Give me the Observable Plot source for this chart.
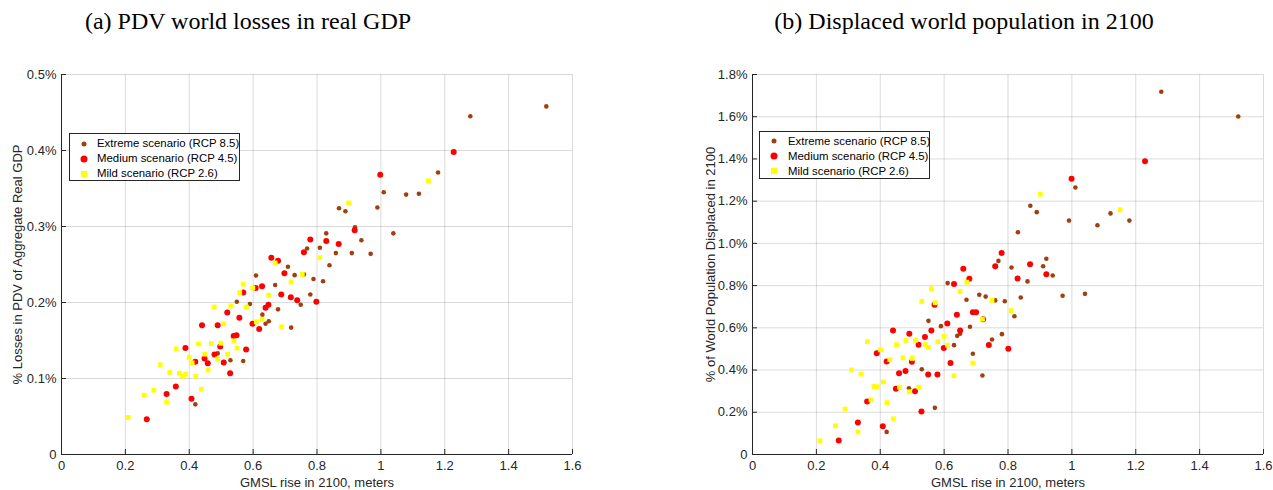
<!DOCTYPE html>
<html>
<head>
<meta charset="utf-8">
<script src="https://cdn.jsdelivr.net/npm/d3@7"></script>
<script src="https://cdn.jsdelivr.net/npm/@observablehq/plot@0.6"></script>
<style>
  body { margin: 0; background: #fff; }
  #wrap { position: relative; width: 1273px; height: 490px; overflow: hidden; font-family: "Liberation Sans", Arial, sans-serif; }
  .title { position: absolute; top: 9px; font-family: "Liberation Serif", "Times New Roman", serif; font-size: 24px; line-height: 1; color: #000; white-space: nowrap; transform: translateX(-50%); }
  .panel { position: absolute; top: 60px; }
  .legend { position: absolute; box-sizing: border-box; background: #fff; border: 1px solid #262626; font-size: 11.4px; color: #000; }
  .row { position: absolute; left: 0; right: 0; height: 15px; line-height: 15px; white-space: nowrap; }
  .row span.t { position: absolute; }
  .mk { position: absolute; top: 50%; transform: translate(-50%, -50%); }
</style>
</head>
<body>
<div id="wrap">
  <div class="title" style="left:248px">(a) PDV world losses in real GDP</div>
  <div class="title" style="left:964px">(b) Displaced world population in 2100</div>
  <div class="panel" id="pa" style="left:0px"></div>
  <div class="panel" id="pb" style="left:690px"></div>
</div>
<script>
// ---------------- data: [GMSL rise (m), value (%)] ----------------
// Panel (a): PDV world losses in real GDP (% of aggregate real GDP)
const extremeA = [
  [1.518,0.458],[1.280,0.445],[1.179,0.371],[1.009,0.345],[1.079,0.342],[1.119,0.343],
  [0.869,0.324],[0.889,0.320],[0.989,0.325],[0.919,0.299],[1.039,0.291],[0.939,0.282],
  [0.829,0.291],[0.769,0.271],[0.809,0.272],[0.859,0.265],[0.909,0.265],[0.968,0.264],
  [0.839,0.249],[0.759,0.237],[0.789,0.231],[0.819,0.228],[0.709,0.247],[0.730,0.236],
  [0.609,0.2355],[0.669,0.223],[0.779,0.2105],[0.749,0.197],[0.590,0.198],[0.549,0.201],
  [0.629,0.184],[0.639,0.172],[0.649,0.1754],[0.678,0.191],[0.719,0.167],[0.489,0.133],
  [0.529,0.124],[0.569,0.123],[0.419,0.066]
];
const mediumA = [
  [1.228,0.398],[0.998,0.368],[0.918,0.295],[0.779,0.283],[0.829,0.281],[0.868,0.277],
  [0.759,0.266],[0.657,0.259],[0.678,0.255],[0.698,0.2385],[0.628,0.2215],[0.608,0.219],
  [0.569,0.213],[0.688,0.2105],[0.718,0.207],[0.738,0.203],[0.798,0.201],[0.648,0.197],
  [0.639,0.193],[0.519,0.187],[0.557,0.180],[0.598,0.172],[0.489,0.170],[0.440,0.170],
  [0.619,0.165],[0.539,0.156],[0.548,0.157],[0.497,0.142],[0.578,0.138],[0.479,0.1316],
  [0.448,0.1263],[0.458,0.120],[0.508,0.121],[0.419,0.122],[0.528,0.107],[0.388,0.140],
  [0.358,0.0894],[0.329,0.0797],[0.407,0.0732],[0.267,0.0464]
];
const mildA = [
  [1.149,0.360],[0.899,0.331],[0.809,0.259],[0.754,0.237],[0.669,0.252],[0.719,0.227],
  [0.599,0.219],[0.569,0.224],[0.558,0.213],[0.649,0.2096],[0.530,0.1955],[0.478,0.194],
  [0.579,0.194],[0.628,0.178],[0.610,0.1745],[0.508,0.172],[0.689,0.168],[0.540,0.1495],
  [0.550,0.140],[0.499,0.1464],[0.469,0.146],[0.429,0.1455],[0.449,0.132],[0.520,0.132],
  [0.489,0.1258],[0.459,0.1113],[0.400,0.128],[0.409,0.1206],[0.359,0.139],[0.309,0.118],
  [0.339,0.108],[0.369,0.107],[0.379,0.103],[0.389,0.1057],[0.420,0.103],[0.438,0.0859],
  [0.289,0.0846],[0.259,0.078],[0.329,0.069],[0.209,0.0487]
];
// Panel (b): % of world population displaced in 2100
const extremeB = [
  [1.280,1.718],[1.521,1.601],[1.011,1.265],[0.870,1.178],[0.890,1.148],[0.991,1.108],
  [1.080,1.086],[1.121,1.142],[1.180,1.108],[0.831,1.053],[0.770,0.917],[0.811,0.886],
  [0.920,0.927],[0.910,0.892],[0.940,0.848],[0.861,0.820],[0.971,0.752],[1.041,0.761],
  [0.840,0.744],[0.790,0.726],[0.760,0.730],[0.820,0.655],[0.781,0.570],[0.750,0.545],
  [0.611,0.812],[0.670,0.733],[0.710,0.757],[0.730,0.748],[0.551,0.633],[0.590,0.608],
  [0.681,0.605],[0.650,0.572],[0.641,0.562],[0.631,0.518],[0.690,0.477],[0.720,0.374],
  [0.530,0.404],[0.490,0.314],[0.571,0.221],[0.420,0.107]
];
const mediumB = [
  [1.229,1.389],[0.999,1.306],[0.780,0.955],[0.760,0.892],[0.869,0.901],[0.920,0.854],
  [0.830,0.834],[0.801,0.501],[0.740,0.519],[0.660,0.880],[0.679,0.832],[0.631,0.808],
  [0.570,0.709],[0.640,0.662],[0.690,0.674],[0.700,0.674],[0.722,0.641],[0.610,0.621],
  [0.440,0.587],[0.491,0.572],[0.540,0.556],[0.560,0.587],[0.650,0.587],[0.520,0.520],
  [0.599,0.504],[0.620,0.433],[0.499,0.439],[0.389,0.480],[0.420,0.441],[0.459,0.385],
  [0.479,0.395],[0.550,0.379],[0.579,0.379],[0.449,0.311],[0.509,0.300],[0.359,0.251],
  [0.529,0.204],[0.330,0.152],[0.408,0.134],[0.270,0.066]
];
const mildB = [
  [0.901,1.233],[1.151,1.159],[0.750,0.730],[0.810,0.682],[0.671,0.816],[0.560,0.785],
  [0.650,0.772],[0.530,0.725],[0.572,0.719],[0.720,0.641],[0.600,0.559],[0.451,0.520],
  [0.480,0.540],[0.510,0.541],[0.541,0.521],[0.551,0.507],[0.580,0.535],[0.611,0.518],
  [0.690,0.433],[0.631,0.373],[0.471,0.458],[0.500,0.455],[0.430,0.449],[0.401,0.496],
  [0.360,0.535],[0.310,0.401],[0.340,0.381],[0.410,0.344],[0.380,0.322],[0.390,0.321],
  [0.460,0.319],[0.521,0.319],[0.491,0.297],[0.371,0.259],[0.421,0.246],[0.290,0.215],
  [0.441,0.169],[0.260,0.136],[0.330,0.107],[0.211,0.065]
];
// ticks and labels
const xTicks = [0, 0.2, 0.4, 0.6, 0.8, 1, 1.2, 1.4, 1.6];
const yTicksA = [0, 0.1, 0.2, 0.3, 0.4, 0.5];
const yTicksB = [0, 0.2, 0.4, 0.6, 0.8, 1.0, 1.2, 1.4, 1.6, 1.8];
const seriesNames = ["Extreme scenario (RCP 8.5)", "Medium scenario (RCP 4.5)", "Mild scenario (RCP 2.6)"];
const seriesColors = ["#A0400F", "#FF0000", "#FFFF00"];
const xLabel = "GMSL rise in 2100, meters";
const yLabelA = "% Losses in PDV of Aggregate Real GDP";
const yLabelB = "% of World Population Displaced in 2100";

const fmtX = d => d === 0 ? "0" : String(+d.toFixed(1));
const fmtY = d => d === 0 ? "0" : d.toFixed(1) + "%";

function panel({width, ml, mr, yMax, yTicks, yLabel, yLabelOffset, extreme, medium, mild}) {
  return Plot.plot({
    width, height: 430,
    marginLeft: ml, marginRight: mr, marginTop: 14, marginBottom: 36,
    style: {fontFamily: '"Liberation Sans", Arial, sans-serif', fontSize: "13px", color: "#262626", background: "transparent", overflow: "visible"},
    x: {domain: [0, 1.6]},
    y: {domain: [0, yMax]},
    marks: [
      Plot.gridX(xTicks, {stroke: "#000", strokeOpacity: 0.14}),
      Plot.gridY(yTicks, {stroke: "#000", strokeOpacity: 0.14}),
      Plot.ruleX([0], {stroke: "#262626"}),
      Plot.ruleY([0], {stroke: "#262626"}),
      Plot.axisX(xTicks, {tickSize: -5, tickPadding: 11, tickFormat: fmtX, stroke: "#262626", fill: "#262626",
        label: xLabel, labelAnchor: "center", labelOffset: 32, labelArrow: "none"}),
      Plot.axisY(yTicks, {tickSize: -5, tickPadding: 10, tickFormat: fmtY, stroke: "#262626", fill: "#262626",
        label: yLabel, labelAnchor: "center", labelOffset: yLabelOffset, labelArrow: "none"}),
      Plot.dot(extreme, {x: d => d[0], y: d => d[1], r: 2.3, fill: seriesColors[0]}),
      Plot.dot(medium, {x: d => d[0], y: d => d[1], r: 3, fill: seriesColors[1]}),
      Plot.dot(mild, {x: d => d[0], y: d => d[1], r: 2.7, symbol: "square", fill: seriesColors[2]})
    ]
  });
}

document.getElementById("pa").append(panel({width: 636, ml: 61, mr: 64, yMax: 0.5, yTicks: yTicksA, yLabel: yLabelA, yLabelOffset: 49,
  extreme: extremeA, medium: mediumA, mild: mildA}));
document.getElementById("pb").append(panel({width: 583, ml: 62, mr: 10, yMax: 1.8, yTicks: yTicksB, yLabel: yLabelB, yLabelOffset: 47,
  extreme: extremeB, medium: mediumB, mild: mildB}));

function legend(left, top, mkX, txtX, rows) {
  const box = document.createElement("div");
  box.className = "legend";
  Object.assign(box.style, {left: left + "px", top: top + "px", width: "171px", height: "48px"});
  seriesNames.forEach((name, i) => {
    const row = document.createElement("div");
    row.className = "row";
    row.style.top = (rows[i] - 7.5) + "px";
    const mk = document.createElement("span");
    mk.className = "mk";
    const s = i === 0 ? 5 : i === 1 ? 7 : 6;
    Object.assign(mk.style, {left: mkX + "px", width: s + "px", height: s + "px", background: seriesColors[i], borderRadius: i === 2 ? "0" : "50%"});
    const t = document.createElement("span");
    t.className = "t";
    t.style.left = txtX + "px";
    t.textContent = name;
    row.append(mk, t);
    box.append(row);
  });
  document.getElementById("wrap").append(box);
}
legend(69, 133, 14, 27, [9.5, 24.5, 39.5]);
legend(759, 131, 14, 28, [9.2, 24.2, 39.2]);
</script>
</body>
</html>
